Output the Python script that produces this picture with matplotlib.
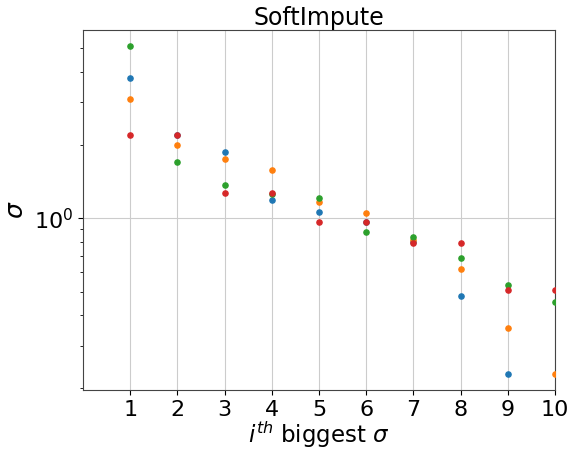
import numpy as np
import matplotlib
matplotlib.use("Agg")
import matplotlib.pyplot as plt

# rank of the singular value
ranks = np.arange(1, 11)

# singular values for the four runs
sv_blue = [3.76, 2.20, 1.87, 1.19, 1.058, 0.963, 0.80, 0.480, 0.229, 0.15]
sv_orange = [3.09, 2.01, 1.75, 1.58, 1.167, 1.048, 0.815, 0.617, 0.355, 0.229]
sv_green = [5.10, 1.71, 1.37, 1.26, 1.215, 0.876, 0.840, 0.685, 0.532, 0.452]
sv_red = [2.20, 2.20, 1.27, 1.27, 0.963, 0.963, 0.794, 0.794, 0.509, 0.509]

fig = plt.figure(figsize=(5.75, 4.54), dpi=100)
ax = fig.add_axes([0.1443, 0.141, 0.8209, 0.7929])

for sv in [sv_blue, sv_orange, sv_green, sv_red]:
    ax.scatter(ranks, sv, s=14, zorder=3)

ax.set_yscale('log')
ax.set_xlim(0, 10)
ax.set_ylim(0.197, 5.94)
ax.set_xticks(ranks)
ax.tick_params(axis='both', which='major', labelsize=16)
ax.grid(True, which='major', color='#cccccc')
for sp in ax.spines.values():
    sp.set_color('#444444')

ax.set_title('SoftImpute', fontsize=17, pad=3)
ax.set_xlabel(r'$i^{th}$ biggest $\sigma$', fontsize=16.5, labelpad=0)
ax.set_ylabel(r'$\sigma$', fontsize=18)

fig.savefig('out.png', dpi=100)
